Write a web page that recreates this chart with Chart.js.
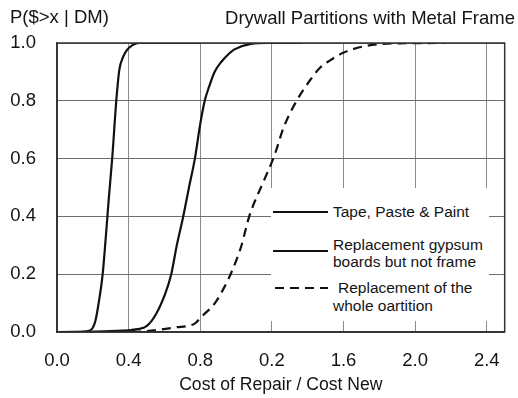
<!DOCTYPE html>
<html>
<head>
<meta charset="utf-8">
<script src="https://cdn.jsdelivr.net/npm/chart.js@4.4.1/dist/chart.umd.min.js"></script>
<style>
  html, body { margin: 0; padding: 0; background: #fff; }
  #wrap { position: relative; width: 518px; height: 398px; font-family: 'Liberation Sans', Arial, sans-serif; color: #141414; }
  #chart { position: absolute; left: 0; top: 0; }
  .top-text { position: absolute; font-size: 18.5px; line-height: 22px; white-space: nowrap; }
  #yTitle { left: 10px; top: 6px; }
  #chartTitle { right: 3px; top: 7px; }
  #legend { position: absolute; left: 271px; top: 188px; width: 218px; height: 133px; background: #fff; font-size: 15.5px; }
  #legend svg { position: absolute; left: 0; top: 0; }
  .label { position: absolute; white-space: nowrap; line-height: 17px; }
</style>
</head>
<body>
<div id="wrap">
  <canvas id="chart" width="518" height="398"></canvas>
  <div class="top-text" id="yTitle">P($&gt;x | DM)</div>
  <div class="top-text" id="chartTitle">Drywall Partitions with Metal Frame</div>
  <div id="legend">
    <svg width="70" height="133">
      <line x1="2" y1="24" x2="57" y2="24" stroke="#111" stroke-width="2"></line>
      <line x1="2" y1="63" x2="57" y2="63" stroke="#111" stroke-width="2"></line>
      <line x1="4" y1="100" x2="57" y2="100" stroke="#111" stroke-width="2" stroke-dasharray="9 6"></line>
    </svg>
    <div class="label" style="left:62px;top:15px">Tape, Paste &amp; Paint</div>
    <div class="label" style="left:62px;top:48px">Replacement gypsum<br>boards but not frame</div>
    <div class="label" style="left:67px;top:91px">Replacement of the</div>
    <div class="label" style="left:62px;top:109px">whole oartition</div>
  </div>
</div>
<script>
const xTickValues = [0, 0.4, 0.8, 1.2, 1.6, 2.0, 2.4];
const xTickLabels = ['0.0', '0.4', '0.8', '0.2', '1.6', '2.0', '2.4'];

const tapeX = [0, 0.13, 0.18, 0.2, 0.215, 0.23, 0.255, 0.274, 0.289, 0.309, 0.331, 0.348, 0.368, 0.39, 0.42, 0.46, 0.8];
const tapeY = [0, 0, 0.004, 0.015, 0.04, 0.09, 0.2, 0.34, 0.46, 0.607, 0.8, 0.907, 0.95, 0.975, 0.992, 1.0, 1.0];

const gypsumX = [0, 0.3, 0.45, 0.5, 0.55, 0.605, 0.638, 0.669, 0.705, 0.737, 0.77, 0.8, 0.825, 0.85, 0.88, 0.918, 0.96, 0.991, 1.083, 1.175, 1.37];
const gypsumY = [0, 0.003, 0.01, 0.02, 0.059, 0.134, 0.2, 0.3, 0.4, 0.5, 0.6, 0.72, 0.8, 0.85, 0.9, 0.935, 0.963, 0.978, 0.997, 1.0, 1.0];

const wholeX = [0, 0.4, 0.5, 0.66, 0.771, 0.807, 0.881, 0.936, 0.973, 1.028, 1.074, 1.157, 1.212, 1.267, 1.341, 1.414, 1.47, 1.525, 1.598, 1.727, 1.91, 2.17];
const wholeY = [0, 0, 0.003, 0.016, 0.03, 0.053, 0.099, 0.157, 0.205, 0.295, 0.401, 0.526, 0.607, 0.71, 0.803, 0.872, 0.915, 0.94, 0.966, 0.99, 0.999, 1.0];

function toPoints(xs, ys) {
  return xs.map((x, i) => ({ x, y: ys[i] }));
}

function curve(label, xs, ys, dash) {
  return {
    label,
    data: toPoints(xs, ys),
    borderColor: '#111',
    borderWidth: 2.2,
    borderDash: dash,
    pointRadius: 0,
    cubicInterpolationMode: 'monotone',
    fill: false
  };
}

// plot frame: top and right edges
const frame = {
  id: 'frame',
  afterDraw(chart) {
    const { ctx, chartArea: a } = chart;
    ctx.save();
    ctx.strokeStyle = '#333';
    ctx.lineWidth = 1.5;
    ctx.strokeRect(a.left, a.top, a.right - a.left, a.bottom - a.top);
    ctx.restore();
  }
};

const tickFont = { family: "'Liberation Sans', Arial, sans-serif", size: 18.5 };

new Chart(document.getElementById('chart'), {
  type: 'line',
  data: {
    datasets: [
      curve('Tape, Paste & Paint', tapeX, tapeY, []),
      curve('Replacement gypsum boards but not frame', gypsumX, gypsumY, []),
      curve('Replacement of the whole oartition', wholeX, wholeY, [9, 6])
    ]
  },
  options: {
    responsive: false,
    animation: false,
    layout: { padding: { top: 43, right: 9, left: 0, bottom: 0 } },
    plugins: {
      legend: { display: false },
      tooltip: { enabled: false }
    },
    scales: {
      x: {
        type: 'linear',
        min: 0,
        max: 2.5,
        afterBuildTicks: (scale) => { scale.ticks = xTickValues.map((value) => ({ value })); },
        afterFit: (scale) => { scale.height = 66; },
        ticks: {
          font: tickFont,
          color: '#141414',
          padding: 18,
          maxRotation: 0,
          callback: (value) => xTickLabels[xTickValues.indexOf(value)]
        },
        grid: { color: '#8c8c8c', lineWidth: 1, drawTicks: false },
        border: { color: '#333', width: 1.5 },
        title: {
          display: true,
          text: 'Cost of Repair / Cost New',
          font: { family: "'Liberation Sans', Arial, sans-serif", size: 17.6 },
          color: '#141414',
          padding: { top: 0, bottom: 2 }
        }
      },
      y: {
        min: 0,
        max: 1,
        afterFit: (scale) => { scale.width = 57; },
        ticks: {
          stepSize: 0.2,
          font: tickFont,
          color: '#141414',
          padding: 21,
          callback: (value) => value.toFixed(1)
        },
        grid: { color: '#6e6e6e', lineWidth: 1, drawTicks: false },
        border: { color: '#333', width: 1.5 }
      }
    }
  },
  plugins: [frame]
});
</script>
</body>
</html>
